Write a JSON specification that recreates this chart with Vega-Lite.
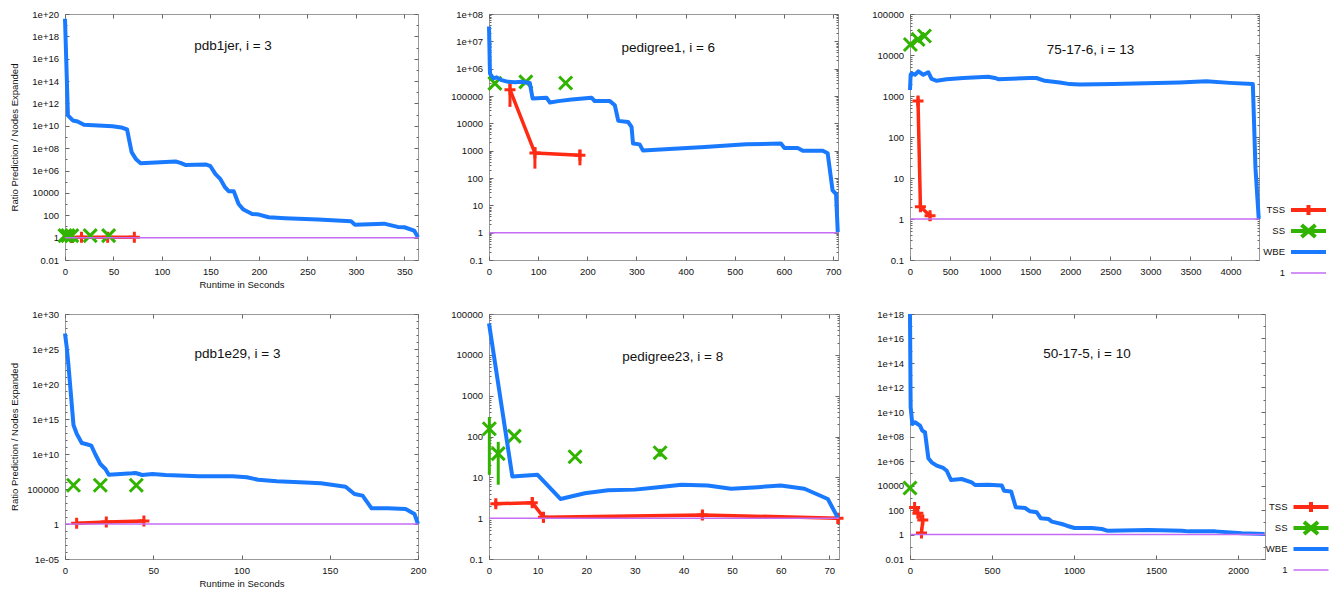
{
"$schema": "https://vega.github.io/schema/vega-lite/v6.json",
"background": "white",
"padding": {"left": 8, "top": 8, "right": 4, "bottom": 2},
"autosize": {"type": "pad"},
"bounds": "flush",
"columns": 3,
"spacing": {"row": 54, "column": 71},
"resolve": {"scale": {"color": "independent"}, "legend": {"color": "independent"}},
"config": {
  "font": "Liberation Sans",
  "view": {"stroke": "#999", "strokeWidth": 1},
  "axis": {"domain": false, "grid": false, "labelFont": "Liberation Sans", "labelFontSize": 9.5, "labelColor": "#111", "tickColor": "#666", "tickSize": -4, "tickWidth": 1, "labelPadding": 10.5, "labelFlush": false, "labelOverlap": false, "labelBound": false, "titleFont": "Liberation Sans", "titleFontSize": 9.5, "titleFontWeight": "normal", "titleColor": "#111"},
  "title": {"font": "Liberation Sans", "fontSize": 13.5, "fontWeight": "normal", "color": "#111", "anchor": "middle", "frame": "group", "offset": 0, "baseline": "middle"},
  "legend": {"labelFont": "Liberation Sans", "labelFontSize": 9.5, "labelColor": "#111"}
},
"datasets": {
  "p1": [
    {"s":"TSS","x":7,"y":1.05},{"s":"TSS","x":17,"y":1.1},{"s":"TSS","x":44,"y":1.1},{"s":"TSS","x":71.5,"y":1.1},
    {"s":"SS","x":0,"y":1.5},{"s":"SS","x":3,"y":1.5},{"s":"SS","x":7,"y":1.5},{"s":"SS","x":26,"y":1.5},{"s":"SS","x":45,"y":1.5},
    {"s":"WBE","x":0,"y":3.8e19},{"s":"WBE","x":3,"y":8.5e10},{"s":"WBE","x":8,"y":3.0e10},{"s":"WBE","x":13,"y":2.45e10},{"s":"WBE","x":19.5,"y":1.23e10},{"s":"WBE","x":49,"y":9.3e9},{"s":"WBE","x":58,"y":7.1e9},{"s":"WBE","x":64,"y":4.7e9},{"s":"WBE","x":68.7,"y":4.4e7},{"s":"WBE","x":73,"y":1.1e7},{"s":"WBE","x":78,"y":4.6e6},{"s":"WBE","x":114,"y":6.5e6},{"s":"WBE","x":119,"y":4.9e6},{"s":"WBE","x":124,"y":3.2e6},{"s":"WBE","x":145,"y":3.5e6},{"s":"WBE","x":150,"y":2.45e6},{"s":"WBE","x":155,"y":5.0e5},{"s":"WBE","x":160,"y":1.8e5},{"s":"WBE","x":165,"y":3.2e4},{"s":"WBE","x":169,"y":1.4e4},{"s":"WBE","x":174,"y":1.4e4},{"s":"WBE","x":179,"y":1020},{"s":"WBE","x":184,"y":324},{"s":"WBE","x":193,"y":132},{"s":"WBE","x":200,"y":115},{"s":"WBE","x":210,"y":66},{"s":"WBE","x":227,"y":54},{"s":"WBE","x":261,"y":41},{"s":"WBE","x":295,"y":29},{"s":"WBE","x":299,"y":14.5},{"s":"WBE","x":329,"y":17.8},{"s":"WBE","x":343,"y":9.1},{"s":"WBE","x":350,"y":8.5},{"s":"WBE","x":360,"y":4.3},{"s":"WBE","x":364,"y":1.07},
    {"s":"1","x":0,"y":1},{"s":"1","x":364,"y":1}
  ],
  "p2": [
    {"s":"TSS","x":42.7,"y":1.7e5,"lo":4e4,"hi":3.3e5},{"s":"TSS","x":93.4,"y":815,"lo":220,"hi":1350},{"s":"TSS","x":185,"y":680,"lo":290,"hi":1100},
    {"s":"SS","x":12,"y":2.9e5},{"s":"SS","x":75,"y":3.3e5},{"s":"SS","x":156,"y":3.0e5},
    {"s":"WBE","x":0,"y":3.5e7},{"s":"WBE","x":2,"y":6.6e5},{"s":"WBE","x":9,"y":4.4e5},{"s":"WBE","x":15.6,"y":4.8e5},{"s":"WBE","x":25.7,"y":3.8e5},{"s":"WBE","x":39,"y":3.3e5},{"s":"WBE","x":53,"y":3.2e5},{"s":"WBE","x":66,"y":3.3e5},{"s":"WBE","x":83,"y":3.0e5},{"s":"WBE","x":88.7,"y":8.1e4},{"s":"WBE","x":117,"y":8.7e4},{"s":"WBE","x":124,"y":5.75e4},{"s":"WBE","x":141,"y":6.5e4},{"s":"WBE","x":168,"y":7.4e4},{"s":"WBE","x":208.5,"y":8.7e4},{"s":"WBE","x":215,"y":6.5e4},{"s":"WBE","x":246,"y":6.5e4},{"s":"WBE","x":256,"y":4.6e4},{"s":"WBE","x":263,"y":1.23e4},{"s":"WBE","x":283,"y":1.12e4},{"s":"WBE","x":290,"y":7400},{"s":"WBE","x":293,"y":1820},{"s":"WBE","x":306.5,"y":1700},{"s":"WBE","x":313,"y":1020},{"s":"WBE","x":439,"y":1350},{"s":"WBE","x":523,"y":1700},{"s":"WBE","x":594,"y":1820},{"s":"WBE","x":601,"y":1260},{"s":"WBE","x":628,"y":1260},{"s":"WBE","x":638.5,"y":1000},{"s":"WBE","x":679,"y":1000},{"s":"WBE","x":689,"y":810},{"s":"WBE","x":699,"y":35},{"s":"WBE","x":706,"y":26},{"s":"WBE","x":709.5,"y":1.05},
    {"s":"1","x":0,"y":1},{"s":"1","x":710,"y":1}
  ],
  "p3": [
    {"s":"TSS","x":100,"y":750,"lo":590,"hi":980},{"s":"TSS","x":130,"y":2.0,"lo":1.55,"hi":2.6},{"s":"TSS","x":250,"y":1.2,"lo":0.9,"hi":1.4},
    {"s":"SS","x":5,"y":18000},{"s":"SS","x":100,"y":24000},{"s":"SS","x":180,"y":29000},
    {"s":"WBE","x":0,"y":1400},{"s":"WBE","x":8,"y":3300},{"s":"WBE","x":21,"y":3600},{"s":"WBE","x":62,"y":3300},{"s":"WBE","x":104,"y":4000},{"s":"WBE","x":166,"y":3300},{"s":"WBE","x":228,"y":3800},{"s":"WBE","x":270,"y":2600},{"s":"WBE","x":333,"y":2350},{"s":"WBE","x":457,"y":2570},{"s":"WBE","x":665,"y":2750},{"s":"WBE","x":976,"y":2950},{"s":"WBE","x":1059,"y":2750},{"s":"WBE","x":1100,"y":2570},{"s":"WBE","x":1495,"y":2750},{"s":"WBE","x":1578,"y":2750},{"s":"WBE","x":1682,"y":2350},{"s":"WBE","x":1869,"y":2140},{"s":"WBE","x":1994,"y":1950},{"s":"WBE","x":2118,"y":1900},{"s":"WBE","x":2534,"y":1950},{"s":"WBE","x":2949,"y":2040},{"s":"WBE","x":3365,"y":2140},{"s":"WBE","x":3697,"y":2290},{"s":"WBE","x":3988,"y":2090},{"s":"WBE","x":4278,"y":1950},{"s":"WBE","x":4311,"y":17.4},{"s":"WBE","x":4352,"y":1.0},
    {"s":"1","x":0,"y":1},{"s":"1","x":4355,"y":1}
  ],
  "p4": [
    {"s":"TSS","x":6.6,"y":1.3},{"s":"TSS","x":23.4,"y":2.0},{"s":"TSS","x":44.7,"y":2.7},
    {"s":"SS","x":4.8,"y":3.5e5},{"s":"SS","x":20,"y":3.5e5},{"s":"SS","x":40.4,"y":3.5e5},
    {"s":"WBE","x":0,"y":1.7e27},{"s":"WBE","x":1,"y":1.6e25},{"s":"WBE","x":1.9,"y":7.2e22},{"s":"WBE","x":4.8,"y":1.4e14},{"s":"WBE","x":6.7,"y":7.2e12},{"s":"WBE","x":9.5,"y":3.7e11},{"s":"WBE","x":11.8,"y":2.7e11},{"s":"WBE","x":14.9,"y":1.55e11},{"s":"WBE","x":17.1,"y":1e10},{"s":"WBE","x":20,"y":3.7e8},{"s":"WBE","x":22.9,"y":7.2e7},{"s":"WBE","x":24.8,"y":1.12e7},{"s":"WBE","x":38,"y":1.74e7},{"s":"WBE","x":40,"y":1.95e7},{"s":"WBE","x":43.8,"y":1e7},{"s":"WBE","x":49.5,"y":1.38e7},{"s":"WBE","x":57,"y":1e7},{"s":"WBE","x":76,"y":6.5e6},{"s":"WBE","x":95,"y":6.5e6},{"s":"WBE","x":103,"y":4.7e6},{"s":"WBE","x":109.5,"y":2.1e6},{"s":"WBE","x":120,"y":1.26e6},{"s":"WBE","x":133,"y":8.9e5},{"s":"WBE","x":145,"y":6.5e5},{"s":"WBE","x":152,"y":3.7e5},{"s":"WBE","x":159,"y":2.1e5},{"s":"WBE","x":164,"y":1.95e4},{"s":"WBE","x":168.6,"y":1.12e4},{"s":"WBE","x":173.7,"y":174},{"s":"WBE","x":183,"y":174},{"s":"WBE","x":193,"y":138},{"s":"WBE","x":198,"y":27},{"s":"WBE","x":200,"y":1.0},
    {"s":"1","x":0,"y":1},{"s":"1","x":200,"y":1}
  ],
  "p5": [
    {"s":"TSS","x":1.4,"y":2.25,"lo":1.86,"hi":2.7},{"s":"TSS","x":8.9,"y":2.4,"lo":1.86,"hi":3.3},{"s":"TSS","x":11.2,"y":1.06,"lo":0.78,"hi":1.4},{"s":"TSS","x":43.9,"y":1.2,"lo":0.9,"hi":1.55},{"s":"TSS","x":71.8,"y":1.0,"lo":0.72,"hi":1.28},
    {"s":"SS","x":0.07,"y":155,"lo":11.5,"hi":300},{"s":"SS","x":1.9,"y":38,"lo":6.6,"hi":74},{"s":"SS","x":5.2,"y":102},{"s":"SS","x":17.7,"y":32},{"s":"SS","x":35.2,"y":40,"lo":32,"hi":50},
    {"s":"WBE","x":0,"y":59000},{"s":"WBE","x":4.8,"y":10.5},{"s":"WBE","x":10,"y":11.5},{"s":"WBE","x":14.7,"y":2.95},{"s":"WBE","x":19.7,"y":4.07},{"s":"WBE","x":24.5,"y":4.8},{"s":"WBE","x":30,"y":5.0},{"s":"WBE","x":34.8,"y":5.75},{"s":"WBE","x":39.6,"y":6.6},{"s":"WBE","x":45,"y":6.3},{"s":"WBE","x":49.8,"y":5.25},{"s":"WBE","x":55.3,"y":5.75},{"s":"WBE","x":60,"y":6.3},{"s":"WBE","x":64.9,"y":5.25},{"s":"WBE","x":69.7,"y":2.95},{"s":"WBE","x":71.8,"y":1.0},
    {"s":"1","x":0,"y":1},{"s":"1","x":72,"y":1}
  ],
  "p6": [
    {"s":"TSS","x":28,"y":160},{"s":"TSS","x":48,"y":55},{"s":"TSS","x":78,"y":15},{"s":"TSS","x":70,"y":1.3,"lo":0.7,"hi":2.2},
    {"s":"SS","x":0,"y":6300},
    {"s":"WBE","x":0,"y":1e18},{"s":"WBE","x":4,"y":2.4e10},{"s":"WBE","x":14,"y":1.05e9},{"s":"WBE","x":30.5,"y":1.45e9},{"s":"WBE","x":61,"y":7.6e8},{"s":"WBE","x":75,"y":3e8},{"s":"WBE","x":91.5,"y":2.2e8},{"s":"WBE","x":112,"y":1.66e6},{"s":"WBE","x":132,"y":7.8e5},{"s":"WBE","x":163,"y":4.2e5},{"s":"WBE","x":203,"y":2.7e5},{"s":"WBE","x":224,"y":1.6e5},{"s":"WBE","x":250,"y":2.8e4},{"s":"WBE","x":315,"y":3.4e4},{"s":"WBE","x":376,"y":1.8e4},{"s":"WBE","x":397,"y":1.1e4},{"s":"WBE","x":478,"y":1.17e4},{"s":"WBE","x":560,"y":9800},{"s":"WBE","x":573.6,"y":3800},{"s":"WBE","x":616.5,"y":3300},{"s":"WBE","x":645,"y":166},{"s":"WBE","x":702,"y":145},{"s":"WBE","x":732,"y":78},{"s":"WBE","x":773,"y":65},{"s":"WBE","x":798,"y":21},{"s":"WBE","x":844,"y":18.6},{"s":"WBE","x":865,"y":11.2},{"s":"WBE","x":926,"y":7.2},{"s":"WBE","x":956,"y":5.2},{"s":"WBE","x":1003,"y":3.4},{"s":"WBE","x":1109,"y":3.4},{"s":"WBE","x":1170,"y":2.8},{"s":"WBE","x":1206.5,"y":2.0},{"s":"WBE","x":1455,"y":2.3},{"s":"WBE","x":1658,"y":2.0},{"s":"WBE","x":1699,"y":1.8},{"s":"WBE","x":1862,"y":1.8},{"s":"WBE","x":2024,"y":1.26},{"s":"WBE","x":2163,"y":1.1},
    {"s":"1","x":0,"y":1},{"s":"1","x":2165,"y":1}
  ]
},
"concat": [
{
 "width": 353, "height": 246,
 "data": {"name": "p1"},
 "title": {"text": "pdb1jer, i = 3", "dx": -8.5, "dy": 47.5},
 "resolve": {"axis": {"x": "independent", "y": "independent"}},
 "encoding": {
  "x": {"field": "x", "type": "quantitative", "scale": {"domain": [0, 364], "nice": false, "zero": false}, "axis": null},
  "y": {"field": "y", "type": "quantitative", "scale": {"type": "log", "domain": [0.01, 1e20], "nice": false}, "axis": null},
  "color": {"field": "s", "type": "nominal", "scale": {"domain": ["TSS", "SS", "WBE", "1"], "range": ["#ff2a14", "#30b400", "#1a7aff", "#c56cf5"]}, "legend": null}
 },
 "layer": [
  {"transform": [{"filter": "datum.s === 'TSS' && isValid(datum.lo)"}], "mark": {"type": "rule", "strokeWidth": 3},
   "encoding": {"y": {"field": "lo", "type": "quantitative", "scale": {"type": "log", "domain": [0.01, 1e20], "nice": false}, "axis": {"orient": "left", "values": [0.1, 10, 1000, 1e5, 1e7, 1e9, 1e11, 1e13, 1e15, 1e17, 1e19], "labels": false, "title": null, "tickSize": -2}}, "y2": {"field": "hi"}}},
  {"transform": [{"filter": "datum.s === 'TSS'"}], "mark": {"type": "line", "strokeWidth": 3.5, "strokeJoin": "round"}, "encoding": {"order": {"value": null}}},
  {"transform": [{"filter": "datum.s === 'TSS'"}], "mark": {"type": "point", "shape": "M-1,0H1M0,-1V1", "size": 121, "strokeWidth": 3, "filled": false, "opacity": 1}},
  {"transform": [{"filter": "datum.s === 'SS' && isValid(datum.lo)"}], "mark": {"type": "rule", "strokeWidth": 3},
   "encoding": {"y": {"field": "lo", "type": "quantitative", "scale": {"type": "log", "domain": [0.01, 1e20], "nice": false}, "axis": {"orient": "right", "values": [0.1, 10, 1000, 1e5, 1e7, 1e9, 1e11, 1e13, 1e15, 1e17, 1e19], "labels": false, "title": null, "tickSize": -2}}, "y2": {"field": "hi"}}},
  {"transform": [{"filter": "datum.s === 'SS'"}], "mark": {"type": "point", "shape": "M-1,-1L1,1M-1,1L1,-1", "size": 169, "strokeWidth": 3, "filled": false, "opacity": 1}},
  {"transform": [{"filter": "datum.s === 'WBE'"}], "mark": {"type": "line", "strokeWidth": 4, "strokeJoin": "round"},
   "encoding": {"order": {"value": null},
    "x": {"field": "x", "type": "quantitative", "scale": {"domain": [0, 364], "nice": false, "zero": false}, "axis": {"orient": "top", "values": [0, 50, 100, 150, 200, 250, 300, 350], "labels": false, "title": null}},
    "y": {"field": "y", "type": "quantitative", "scale": {"type": "log", "domain": [0.01, 1e20], "nice": false}, "axis": {"orient": "right", "values": [0.01, 1, 100, 1e4, 1e6, 1e8, 1e10, 1e12, 1e14, 1e16, 1e18, 1e20], "labels": false, "title": null}}}},
  {"transform": [{"filter": "datum.s === '1'"}], "mark": {"type": "line", "strokeWidth": 1.5},
   "encoding": {"order": {"value": null},
    "x": {"field": "x", "type": "quantitative", "scale": {"domain": [0, 364], "nice": false, "zero": false}, "axis": {"orient": "bottom", "values": [0, 50, 100, 150, 200, 250, 300, 350], "format": "d", "title": "Runtime in Seconds", "titleY": 24.5, "titleBaseline": "middle"}},
    "y": {"field": "y", "type": "quantitative", "scale": {"type": "log", "domain": [0.01, 1e20], "nice": false}, "axis": {"orient": "left", "values": [0.01, 1, 100, 1e4, 1e6, 1e8, 1e10, 1e12, 1e14, 1e16, 1e18, 1e20], "labelExpr": "datum.value >= 1e6 ? '1e+' + (datum.value < 9e9 ? '0' : '') + round(log(datum.value)/LN10) : (datum.value < 1e-4 ? '1e-05' : '' + datum.value)", "title": "Ratio Prediction / Nodes Expanded", "titleX": -51, "titleBaseline": "middle"}}}}
 ]
},
{
 "width": 349, "height": 246,
 "data": {"name": "p2"},
 "title": {"text": "pedigree1, i = 6", "dx": 4.8, "dy": 49.2},
 "resolve": {"axis": {"x": "independent", "y": "independent"}},
 "encoding": {
  "x": {"field": "x", "type": "quantitative", "scale": {"domain": [0, 710], "nice": false, "zero": false}, "axis": null},
  "y": {"field": "y", "type": "quantitative", "scale": {"type": "log", "domain": [0.1, 1e8], "nice": false}, "axis": null},
  "color": {"field": "s", "type": "nominal", "scale": {"domain": ["TSS", "SS", "WBE", "1"], "range": ["#ff2a14", "#30b400", "#1a7aff", "#c56cf5"]}, "legend": null}
 },
 "layer": [
  {"transform": [{"filter": "datum.s === 'TSS' && isValid(datum.lo)"}], "mark": {"type": "rule", "strokeWidth": 3},
   "encoding": {"y": {"field": "lo", "type": "quantitative", "scale": {"type": "log", "domain": [0.1, 1e8], "nice": false}, "axis": {"orient": "left", "values": [0.2,0.3,0.4,0.5,0.6,0.7,0.8,0.9,2,3,4,5,6,7,8,9,20,30,40,50,60,70,80,90,200,300,400,500,600,700,800,900,2000,3000,4000,5000,6000,7000,8000,9000,20000,30000,40000,50000,60000,70000,80000,90000,2e5,3e5,4e5,5e5,6e5,7e5,8e5,9e5,2e6,3e6,4e6,5e6,6e6,7e6,8e6,9e6,2e7,3e7,4e7,5e7,6e7,7e7,8e7,9e7], "labels": false, "title": null, "tickSize": -2}}, "y2": {"field": "hi"}}},
  {"transform": [{"filter": "datum.s === 'TSS'"}], "mark": {"type": "line", "strokeWidth": 3.5, "strokeJoin": "round"}, "encoding": {"order": {"value": null}}},
  {"transform": [{"filter": "datum.s === 'TSS'"}], "mark": {"type": "point", "shape": "M-1,0H1M0,-1V1", "size": 121, "strokeWidth": 3, "filled": false, "opacity": 1}},
  {"transform": [{"filter": "datum.s === 'SS' && isValid(datum.lo)"}], "mark": {"type": "rule", "strokeWidth": 3},
   "encoding": {"y": {"field": "lo", "type": "quantitative", "scale": {"type": "log", "domain": [0.1, 1e8], "nice": false}, "axis": {"orient": "right", "values": [0.2,0.3,0.4,0.5,0.6,0.7,0.8,0.9,2,3,4,5,6,7,8,9,20,30,40,50,60,70,80,90,200,300,400,500,600,700,800,900,2000,3000,4000,5000,6000,7000,8000,9000,20000,30000,40000,50000,60000,70000,80000,90000,2e5,3e5,4e5,5e5,6e5,7e5,8e5,9e5,2e6,3e6,4e6,5e6,6e6,7e6,8e6,9e6,2e7,3e7,4e7,5e7,6e7,7e7,8e7,9e7], "labels": false, "title": null, "tickSize": -2}}, "y2": {"field": "hi"}}},
  {"transform": [{"filter": "datum.s === 'SS'"}], "mark": {"type": "point", "shape": "M-1,-1L1,1M-1,1L1,-1", "size": 169, "strokeWidth": 3, "filled": false, "opacity": 1}},
  {"transform": [{"filter": "datum.s === 'WBE'"}], "mark": {"type": "line", "strokeWidth": 4, "strokeJoin": "round"},
   "encoding": {"order": {"value": null},
    "x": {"field": "x", "type": "quantitative", "scale": {"domain": [0, 710], "nice": false, "zero": false}, "axis": {"orient": "top", "values": [0, 100, 200, 300, 400, 500, 600, 700], "labels": false, "title": null}},
    "y": {"field": "y", "type": "quantitative", "scale": {"type": "log", "domain": [0.1, 1e8], "nice": false}, "axis": {"orient": "right", "values": [0.1, 1, 10, 100, 1000, 1e4, 1e5, 1e6, 1e7, 1e8], "labels": false, "title": null}}}},
  {"transform": [{"filter": "datum.s === '1'"}], "mark": {"type": "line", "strokeWidth": 1.5},
   "encoding": {"order": {"value": null},
    "x": {"field": "x", "type": "quantitative", "scale": {"domain": [0, 710], "nice": false, "zero": false}, "axis": {"orient": "bottom", "values": [0, 100, 200, 300, 400, 500, 600, 700], "format": "d", "title": null}},
    "y": {"field": "y", "type": "quantitative", "scale": {"type": "log", "domain": [0.1, 1e8], "nice": false}, "axis": {"orient": "left", "values": [0.1, 1, 10, 100, 1000, 1e4, 1e5, 1e6, 1e7, 1e8], "labelExpr": "datum.value >= 1e6 ? '1e+' + (datum.value < 9e9 ? '0' : '') + round(log(datum.value)/LN10) : (datum.value < 1e-4 ? '1e-05' : '' + datum.value)", "title": null}}}}
 ]
},
{
 "width": 349, "height": 246,
 "data": {"name": "p3"},
 "title": {"text": "75-17-6, i = 13", "dx": 6, "dy": 51},
 "resolve": {"axis": {"x": "independent", "y": "independent"}},
 "encoding": {
  "x": {"field": "x", "type": "quantitative", "scale": {"domain": [0, 4355], "nice": false, "zero": false}, "axis": null},
  "y": {"field": "y", "type": "quantitative", "scale": {"type": "log", "domain": [0.1, 1e5], "nice": false}, "axis": null},
  "color": {"field": "s", "type": "nominal", "scale": {"domain": ["TSS", "SS", "WBE", "1"], "range": ["#ff2a14", "#30b400", "#1a7aff", "#c56cf5"]},
   "legend": {"orient": "none", "legendX": 391.5, "legendY": 189, "title": null, "symbolSize": 100, "symbolStrokeWidth": 4, "labelAlign": "right", "labelOffset": -30.5, "rowPadding": -25, "padding": 0,
    "encode": {"symbols": {"update": {
      "shape": {"signal": "(datum.value === 'TSS' ? 'M0,-1.2M0,1.2M-3.5,0H3.5M0,-1V1' : datum.value === 'SS' ? 'M0,-1.2M0,1.2M-3.5,0H3.5M-1.4,-1.2L1.4,1.2M-1.4,1.2L1.4,-1.2' : datum.value === 'WBE' ? 'M0,-1.2M0,1.2M-3.5,0H3.5' : 'M0,-1.45M0,1.45M-3.5,0H3.5')"},
      "strokeWidth": {"signal": "(datum.value === '1' ? 1.5 : 4)"},
      "fill": {"value": "transparent"},
      "stroke": {"signal": "(datum.value === 'TSS' ? '#ff2a14' : datum.value === 'SS' ? '#30b400' : datum.value === 'WBE' ? '#1a7aff' : '#c56cf5')"},
      "opacity": {"value": 1}}}}}}
 },
 "layer": [
  {"transform": [{"filter": "datum.s === 'TSS' && isValid(datum.lo)"}], "mark": {"type": "rule", "strokeWidth": 3},
   "encoding": {"y": {"field": "lo", "type": "quantitative", "scale": {"type": "log", "domain": [0.1, 1e5], "nice": false}, "axis": {"orient": "left", "values": [0.2,0.3,0.4,0.5,0.6,0.7,0.8,0.9,2,3,4,5,6,7,8,9,20,30,40,50,60,70,80,90,200,300,400,500,600,700,800,900,2000,3000,4000,5000,6000,7000,8000,9000,20000,30000,40000,50000,60000,70000,80000,90000], "labels": false, "title": null, "tickSize": -2}}, "y2": {"field": "hi"}}},
  {"transform": [{"filter": "datum.s === 'TSS'"}], "mark": {"type": "line", "strokeWidth": 3.5, "strokeJoin": "round"}, "encoding": {"order": {"value": null}}},
  {"transform": [{"filter": "datum.s === 'TSS'"}], "mark": {"type": "point", "shape": "M-1,0H1M0,-1V1", "size": 121, "strokeWidth": 3, "filled": false, "opacity": 1}},
  {"transform": [{"filter": "datum.s === 'SS' && isValid(datum.lo)"}], "mark": {"type": "rule", "strokeWidth": 3},
   "encoding": {"y": {"field": "lo", "type": "quantitative", "scale": {"type": "log", "domain": [0.1, 1e5], "nice": false}, "axis": {"orient": "right", "values": [0.2,0.3,0.4,0.5,0.6,0.7,0.8,0.9,2,3,4,5,6,7,8,9,20,30,40,50,60,70,80,90,200,300,400,500,600,700,800,900,2000,3000,4000,5000,6000,7000,8000,9000,20000,30000,40000,50000,60000,70000,80000,90000], "labels": false, "title": null, "tickSize": -2}}, "y2": {"field": "hi"}}},
  {"transform": [{"filter": "datum.s === 'SS'"}], "mark": {"type": "point", "shape": "M-1,-1L1,1M-1,1L1,-1", "size": 169, "strokeWidth": 3, "filled": false, "opacity": 1}},
  {"transform": [{"filter": "datum.s === 'WBE'"}], "mark": {"type": "line", "strokeWidth": 4, "strokeJoin": "round"},
   "encoding": {"order": {"value": null},
    "x": {"field": "x", "type": "quantitative", "scale": {"domain": [0, 4355], "nice": false, "zero": false}, "axis": {"orient": "top", "values": [0, 500, 1000, 1500, 2000, 2500, 3000, 3500, 4000], "labels": false, "title": null}},
    "y": {"field": "y", "type": "quantitative", "scale": {"type": "log", "domain": [0.1, 1e5], "nice": false}, "axis": {"orient": "right", "values": [0.1, 1, 10, 100, 1000, 1e4, 1e5], "labels": false, "title": null}}}},
  {"transform": [{"filter": "datum.s === '1'"}], "mark": {"type": "line", "strokeWidth": 1.5},
   "encoding": {"order": {"value": null},
    "x": {"field": "x", "type": "quantitative", "scale": {"domain": [0, 4355], "nice": false, "zero": false}, "axis": {"orient": "bottom", "values": [0, 500, 1000, 1500, 2000, 2500, 3000, 3500, 4000], "format": "d", "title": null}},
    "y": {"field": "y", "type": "quantitative", "scale": {"type": "log", "domain": [0.1, 1e5], "nice": false}, "axis": {"orient": "left", "values": [0.1, 1, 10, 100, 1000, 1e4, 1e5], "labelExpr": "datum.value >= 1e6 ? '1e+' + (datum.value < 9e9 ? '0' : '') + round(log(datum.value)/LN10) : (datum.value < 1e-4 ? '1e-05' : '' + datum.value)", "title": null}}}}
 ]
},
{
 "width": 353, "height": 245,
 "data": {"name": "p4"},
 "title": {"text": "pdb1e29, i = 3", "dx": -4, "dy": 55.3},
 "resolve": {"axis": {"x": "independent", "y": "independent"}},
 "encoding": {
  "x": {"field": "x", "type": "quantitative", "scale": {"domain": [0, 200], "nice": false, "zero": false}, "axis": null},
  "y": {"field": "y", "type": "quantitative", "scale": {"type": "log", "domain": [1e-5, 1e30], "nice": false}, "axis": null},
  "color": {"field": "s", "type": "nominal", "scale": {"domain": ["TSS", "SS", "WBE", "1"], "range": ["#ff2a14", "#30b400", "#1a7aff", "#c56cf5"]}, "legend": null}
 },
 "layer": [
  {"transform": [{"filter": "datum.s === 'TSS' && isValid(datum.lo)"}], "mark": {"type": "rule", "strokeWidth": 3},
   "encoding": {"y": {"field": "lo", "type": "quantitative", "scale": {"type": "log", "domain": [1e-5, 1e30], "nice": false}, "axis": {"orient": "left", "values": [1e-4,1e-3,0.01,0.1,10,100,1000,1e4,1e6,1e7,1e8,1e9,1e11,1e12,1e13,1e14,1e16,1e17,1e18,1e19,1e21,1e22,1e23,1e24,1e26,1e27,1e28,1e29], "labels": false, "title": null, "tickSize": -2}}, "y2": {"field": "hi"}}},
  {"transform": [{"filter": "datum.s === 'TSS'"}], "mark": {"type": "line", "strokeWidth": 3.5, "strokeJoin": "round"}, "encoding": {"order": {"value": null}}},
  {"transform": [{"filter": "datum.s === 'TSS'"}], "mark": {"type": "point", "shape": "M-1,0H1M0,-1V1", "size": 121, "strokeWidth": 3, "filled": false, "opacity": 1}},
  {"transform": [{"filter": "datum.s === 'SS' && isValid(datum.lo)"}], "mark": {"type": "rule", "strokeWidth": 3},
   "encoding": {"y": {"field": "lo", "type": "quantitative", "scale": {"type": "log", "domain": [1e-5, 1e30], "nice": false}, "axis": {"orient": "right", "values": [1e-4,1e-3,0.01,0.1,10,100,1000,1e4,1e6,1e7,1e8,1e9,1e11,1e12,1e13,1e14,1e16,1e17,1e18,1e19,1e21,1e22,1e23,1e24,1e26,1e27,1e28,1e29], "labels": false, "title": null, "tickSize": -2}}, "y2": {"field": "hi"}}},
  {"transform": [{"filter": "datum.s === 'SS'"}], "mark": {"type": "point", "shape": "M-1,-1L1,1M-1,1L1,-1", "size": 169, "strokeWidth": 3, "filled": false, "opacity": 1}},
  {"transform": [{"filter": "datum.s === 'WBE'"}], "mark": {"type": "line", "strokeWidth": 4, "strokeJoin": "round"},
   "encoding": {"order": {"value": null},
    "x": {"field": "x", "type": "quantitative", "scale": {"domain": [0, 200], "nice": false, "zero": false}, "axis": {"orient": "top", "values": [0, 50, 100, 150, 200], "labels": false, "title": null}},
    "y": {"field": "y", "type": "quantitative", "scale": {"type": "log", "domain": [1e-5, 1e30], "nice": false}, "axis": {"orient": "right", "values": [1e-5, 1, 1e5, 1e10, 1e15, 1e20, 1e25, 1e30], "labels": false, "title": null}}}},
  {"transform": [{"filter": "datum.s === '1'"}], "mark": {"type": "line", "strokeWidth": 1.5},
   "encoding": {"order": {"value": null},
    "x": {"field": "x", "type": "quantitative", "scale": {"domain": [0, 200], "nice": false, "zero": false}, "axis": {"orient": "bottom", "values": [0, 50, 100, 150, 200], "format": "d", "title": "Runtime in Seconds", "titleY": 24.5, "titleBaseline": "middle"}},
    "y": {"field": "y", "type": "quantitative", "scale": {"type": "log", "domain": [1e-5, 1e30], "nice": false}, "axis": {"orient": "left", "values": [1e-5, 1, 1e5, 1e10, 1e15, 1e20, 1e25, 1e30], "labelExpr": "datum.value >= 1e6 ? '1e+' + (datum.value < 9e9 ? '0' : '') + round(log(datum.value)/LN10) : (datum.value < 1e-4 ? '1e-05' : '' + datum.value)", "title": "Ratio Prediction / Nodes Expanded", "titleX": -51, "titleBaseline": "middle"}}}}
 ]
},
{
 "width": 350, "height": 245,
 "data": {"name": "p5"},
 "title": {"text": "pedigree23, i = 8", "dx": 8.7, "dy": 58},
 "resolve": {"axis": {"x": "independent", "y": "independent"}},
 "encoding": {
  "x": {"field": "x", "type": "quantitative", "scale": {"domain": [0, 72], "nice": false, "zero": false}, "axis": null},
  "y": {"field": "y", "type": "quantitative", "scale": {"type": "log", "domain": [0.1, 1e5], "nice": false}, "axis": null},
  "color": {"field": "s", "type": "nominal", "scale": {"domain": ["TSS", "SS", "WBE", "1"], "range": ["#ff2a14", "#30b400", "#1a7aff", "#c56cf5"]}, "legend": null}
 },
 "layer": [
  {"transform": [{"filter": "datum.s === 'TSS' && isValid(datum.lo)"}], "mark": {"type": "rule", "strokeWidth": 3},
   "encoding": {"y": {"field": "lo", "type": "quantitative", "scale": {"type": "log", "domain": [0.1, 1e5], "nice": false}, "axis": {"orient": "left", "values": [0.2,0.3,0.4,0.5,0.6,0.7,0.8,0.9,2,3,4,5,6,7,8,9,20,30,40,50,60,70,80,90,200,300,400,500,600,700,800,900,2000,3000,4000,5000,6000,7000,8000,9000,20000,30000,40000,50000,60000,70000,80000,90000], "labels": false, "title": null, "tickSize": -2}}, "y2": {"field": "hi"}}},
  {"transform": [{"filter": "datum.s === 'TSS'"}], "mark": {"type": "line", "strokeWidth": 3.5, "strokeJoin": "round"}, "encoding": {"order": {"value": null}}},
  {"transform": [{"filter": "datum.s === 'TSS'"}], "mark": {"type": "point", "shape": "M-1,0H1M0,-1V1", "size": 121, "strokeWidth": 3, "filled": false, "opacity": 1}},
  {"transform": [{"filter": "datum.s === 'SS' && isValid(datum.lo)"}], "mark": {"type": "rule", "strokeWidth": 3},
   "encoding": {"y": {"field": "lo", "type": "quantitative", "scale": {"type": "log", "domain": [0.1, 1e5], "nice": false}, "axis": {"orient": "right", "values": [0.2,0.3,0.4,0.5,0.6,0.7,0.8,0.9,2,3,4,5,6,7,8,9,20,30,40,50,60,70,80,90,200,300,400,500,600,700,800,900,2000,3000,4000,5000,6000,7000,8000,9000,20000,30000,40000,50000,60000,70000,80000,90000], "labels": false, "title": null, "tickSize": -2}}, "y2": {"field": "hi"}}},
  {"transform": [{"filter": "datum.s === 'SS'"}], "mark": {"type": "point", "shape": "M-1,-1L1,1M-1,1L1,-1", "size": 169, "strokeWidth": 3, "filled": false, "opacity": 1}},
  {"transform": [{"filter": "datum.s === 'WBE'"}], "mark": {"type": "line", "strokeWidth": 4, "strokeJoin": "round"},
   "encoding": {"order": {"value": null},
    "x": {"field": "x", "type": "quantitative", "scale": {"domain": [0, 72], "nice": false, "zero": false}, "axis": {"orient": "top", "values": [0, 10, 20, 30, 40, 50, 60, 70], "labels": false, "title": null}},
    "y": {"field": "y", "type": "quantitative", "scale": {"type": "log", "domain": [0.1, 1e5], "nice": false}, "axis": {"orient": "right", "values": [0.1, 1, 10, 100, 1000, 1e4, 1e5], "labels": false, "title": null}}}},
  {"transform": [{"filter": "datum.s === '1'"}], "mark": {"type": "line", "strokeWidth": 1.5},
   "encoding": {"order": {"value": null},
    "x": {"field": "x", "type": "quantitative", "scale": {"domain": [0, 72], "nice": false, "zero": false}, "axis": {"orient": "bottom", "values": [0, 10, 20, 30, 40, 50, 60, 70], "format": "d", "title": null}},
    "y": {"field": "y", "type": "quantitative", "scale": {"type": "log", "domain": [0.1, 1e5], "nice": false}, "axis": {"orient": "left", "values": [0.1, 1, 10, 100, 1000, 1e4, 1e5], "labelExpr": "datum.value >= 1e6 ? '1e+' + (datum.value < 9e9 ? '0' : '') + round(log(datum.value)/LN10) : (datum.value < 1e-4 ? '1e-05' : '' + datum.value)", "title": null}}}}
 ]
},
{
 "width": 355, "height": 245,
 "data": {"name": "p6"},
 "title": {"text": "50-17-5, i = 10", "dx": -0.5, "dy": 55.3},
 "resolve": {"axis": {"x": "independent", "y": "independent"}},
 "encoding": {
  "x": {"field": "x", "type": "quantitative", "scale": {"domain": [0, 2165], "nice": false, "zero": false}, "axis": null},
  "y": {"field": "y", "type": "quantitative", "scale": {"type": "log", "domain": [0.01, 1e18], "nice": false}, "axis": null},
  "color": {"field": "s", "type": "nominal", "scale": {"domain": ["TSS", "SS", "WBE", "1"], "range": ["#ff2a14", "#30b400", "#1a7aff", "#c56cf5"]},
   "legend": {"orient": "none", "legendX": 394, "legendY": 186, "title": null, "symbolSize": 100, "symbolStrokeWidth": 4, "labelAlign": "right", "labelOffset": -30.5, "rowPadding": -25, "padding": 0,
    "encode": {"symbols": {"update": {
      "shape": {"signal": "(datum.value === 'TSS' ? 'M0,-1.2M0,1.2M-3.5,0H3.5M0,-1V1' : datum.value === 'SS' ? 'M0,-1.2M0,1.2M-3.5,0H3.5M-1.4,-1.2L1.4,1.2M-1.4,1.2L1.4,-1.2' : datum.value === 'WBE' ? 'M0,-1.2M0,1.2M-3.5,0H3.5' : 'M0,-1.45M0,1.45M-3.5,0H3.5')"},
      "strokeWidth": {"signal": "(datum.value === '1' ? 1.5 : 4)"},
      "fill": {"value": "transparent"},
      "stroke": {"signal": "(datum.value === 'TSS' ? '#ff2a14' : datum.value === 'SS' ? '#30b400' : datum.value === 'WBE' ? '#1a7aff' : '#c56cf5')"},
      "opacity": {"value": 1}}}}}}
 },
 "layer": [
  {"transform": [{"filter": "datum.s === 'TSS' && isValid(datum.lo)"}], "mark": {"type": "rule", "strokeWidth": 3},
   "encoding": {"y": {"field": "lo", "type": "quantitative", "scale": {"type": "log", "domain": [0.01, 1e18], "nice": false}, "axis": {"orient": "left", "values": [0.1, 10, 1000, 1e5, 1e7, 1e9, 1e11, 1e13, 1e15, 1e17], "labels": false, "title": null, "tickSize": -2}}, "y2": {"field": "hi"}}},
  {"transform": [{"filter": "datum.s === 'TSS'"}], "mark": {"type": "line", "strokeWidth": 3.5, "strokeJoin": "round"}, "encoding": {"order": {"value": null}}},
  {"transform": [{"filter": "datum.s === 'TSS'"}], "mark": {"type": "point", "shape": "M-1,0H1M0,-1V1", "size": 121, "strokeWidth": 3, "filled": false, "opacity": 1}},
  {"transform": [{"filter": "datum.s === 'SS' && isValid(datum.lo)"}], "mark": {"type": "rule", "strokeWidth": 3},
   "encoding": {"y": {"field": "lo", "type": "quantitative", "scale": {"type": "log", "domain": [0.01, 1e18], "nice": false}, "axis": {"orient": "right", "values": [0.1, 10, 1000, 1e5, 1e7, 1e9, 1e11, 1e13, 1e15, 1e17], "labels": false, "title": null, "tickSize": -2}}, "y2": {"field": "hi"}}},
  {"transform": [{"filter": "datum.s === 'SS'"}], "mark": {"type": "point", "shape": "M-1,-1L1,1M-1,1L1,-1", "size": 169, "strokeWidth": 3, "filled": false, "opacity": 1}},
  {"transform": [{"filter": "datum.s === 'WBE'"}], "mark": {"type": "line", "strokeWidth": 4, "strokeJoin": "round"},
   "encoding": {"order": {"value": null},
    "x": {"field": "x", "type": "quantitative", "scale": {"domain": [0, 2165], "nice": false, "zero": false}, "axis": {"orient": "top", "values": [0, 500, 1000, 1500, 2000], "labels": false, "title": null}},
    "y": {"field": "y", "type": "quantitative", "scale": {"type": "log", "domain": [0.01, 1e18], "nice": false}, "axis": {"orient": "right", "values": [0.01, 1, 100, 1e4, 1e6, 1e8, 1e10, 1e12, 1e14, 1e16, 1e18], "labels": false, "title": null}}}},
  {"transform": [{"filter": "datum.s === '1'"}], "mark": {"type": "line", "strokeWidth": 1.5},
   "encoding": {"order": {"value": null},
    "x": {"field": "x", "type": "quantitative", "scale": {"domain": [0, 2165], "nice": false, "zero": false}, "axis": {"orient": "bottom", "values": [0, 500, 1000, 1500, 2000], "format": "d", "title": null}},
    "y": {"field": "y", "type": "quantitative", "scale": {"type": "log", "domain": [0.01, 1e18], "nice": false}, "axis": {"orient": "left", "values": [0.01, 1, 100, 1e4, 1e6, 1e8, 1e10, 1e12, 1e14, 1e16, 1e18], "labelExpr": "datum.value >= 1e6 ? '1e+' + (datum.value < 9e9 ? '0' : '') + round(log(datum.value)/LN10) : (datum.value < 1e-4 ? '1e-05' : '' + datum.value)", "title": null}}}}
 ]
}
]
}
